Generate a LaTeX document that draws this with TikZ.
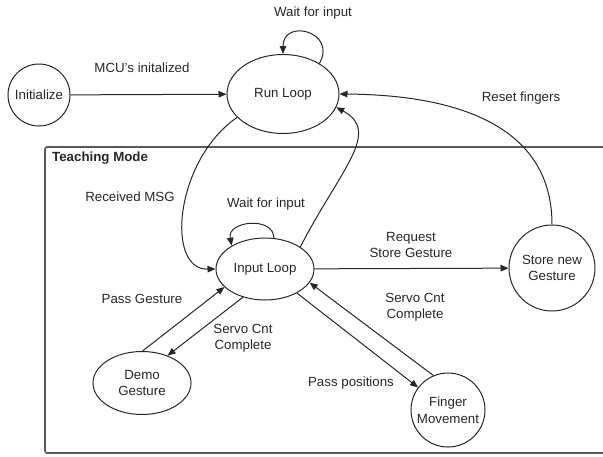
\documentclass[tikz,border=0pt]{standalone}
\usepackage{fontspec}
\setmainfont{Liberation Sans}
\usetikzlibrary{arrows.meta,shapes.geometric}
\begin{document}
\begin{tikzpicture}[x=1pt,y=-1pt,
  every node/.style={font=\fontsize{13.3}{16.5}\selectfont, text=black!85},
  state/.style={draw=black!85, line width=1pt, ellipse, inner sep=0pt},
  circstate/.style={draw=black!85, line width=1pt, circle, inner sep=0pt},
  lbl/.style={align=center, inner sep=0pt},
  edge/.style={draw=black!85, line width=1pt, -{Triangle[length=8pt,width=6.5pt]}},
  frame/.style={draw=black!65, line width=1.6pt, rounded corners=2pt}
]
\useasboundingbox (0,0) rectangle (603,456);
\begin{scope}
\clip (0,0) rectangle (603,456);
\draw[frame] (45,147) rectangle (612,453);
\end{scope}
\node[lbl, anchor=west, font=\fontsize{13.3}{16.5}\selectfont\bfseries] (tm) at (52,158) {Teaching Mode};

% states
\node[circstate, minimum size=62pt] (init) at (39,95) {Initialize};
\node[state, minimum width=112pt, minimum height=79pt] (run) at (283,94) {Run Loop};
\node[state, minimum width=98pt, minimum height=62pt] (input) at (265,269) {Input Loop};
\node[state, minimum width=98pt, minimum height=63pt, align=center] (demo) at (142,383) {Demo\\Gesture};
\node[circstate, minimum size=74pt, align=center] (finger) at (448,410) {Finger\\Movement};
\node[circstate, minimum size=86pt, align=center] (store) at (552,268) {Store new\\Gesture};

% labels
\node[lbl] (l1) at (313,13) {Wait for input};
\node[lbl] (l2) at (142,68) {MCU's initalized};
\node[lbl] (l3) at (521,98) {Reset fingers};
\node[lbl] (l4) at (130,197) {Received MSG};
\node[lbl] (l5) at (266,204) {Wait for input};
\node[lbl] (l6) at (411,245) {Request\\Store Gesture};
\node[lbl] (l7) at (142,299) {Pass Gesture};
\node[lbl] (l8) at (243,338) {Servo Cnt\\Complete};
\node[lbl] (l9) at (415,307) {Servo Cnt\\Complete};
\node[lbl] (l10) at (351,383) {Pass positions};

% connectors
\draw[edge] (init) -- (run);
\draw[edge] (run.40) .. controls +(18,-32) and +(0,-36) .. (run.north);
\draw[edge] (input.74) .. controls +(0,-22) and +(-5,-25) .. (input.145);
\draw[edge] (run.207) .. controls (175,160) and (165,270) .. (input.west);
\draw[edge] (input.32) .. controls (340,170) and (382,132) .. (run.-14);
\draw[edge] (store.north) .. controls (552,130) and (465,95) .. (run.east);
\draw[edge] (input) -- (store);
\draw[edge] (demo.89) -- (input.204);
\draw[edge] (input.232) -- (demo.47);
\draw[edge] (input.-37) -- (finger.143);
\draw[edge] (finger.113) -- (input.-17);
\end{tikzpicture}
\end{document}
